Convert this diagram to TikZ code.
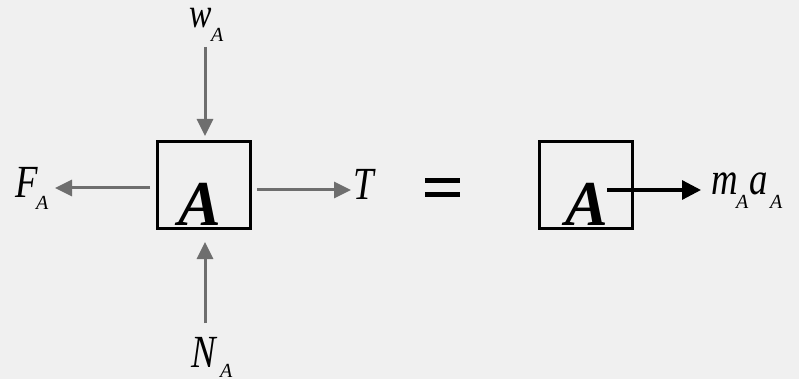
\documentclass[tikz,border=0pt]{standalone}
\usepackage{fontspec}
\setmainfont{Liberation Serif}
\usetikzlibrary{arrows.meta}
\definecolor{bg}{RGB}{240,240,240}
\definecolor{force}{RGB}{110,110,110}
\tikzset{
  box/.style={draw=black,line width=3pt,fill=none},
  farrow/.style={draw=force,line width=3pt,-{Triangle[length=17pt,width=16pt]}},
  karrow/.style={draw=black,line width=3.2pt,-{Triangle[length=19pt,width=19pt]}},
  lbl/.style={inner sep=0pt,anchor=base west,xscale=0.8,transform shape,font=\fontsize{46}{46}\selectfont\itshape},
  sub/.style={inner sep=0pt,anchor=base west,font=\fontsize{20}{20}\selectfont\itshape},
  biga/.style={inner sep=0pt,anchor=base,font=\fontsize{64}{64}\selectfont\bfseries\itshape},
}
\begin{document}
\begin{tikzpicture}[x=1pt,y=-1pt]
\fill[bg] (0,0) rectangle (799,379);
\useasboundingbox (0,0) rectangle (799,379);
% left box
\node[box,minimum width=93pt,minimum height=86pt,inner sep=0pt] (boxL) at (203.5,185) {};
\node[biga] (AL) at (200,225.5) {A};
% right box
\node[box,minimum width=93pt,minimum height=86pt,inner sep=0pt] (boxR) at (585.5,185) {};
\node[biga] (AR) at (587,225.5) {A};
% arrow ends
\coordinate (wt) at (205,47);
\coordinate (wh) at (205,136);
\coordinate (nt) at (205,323);
\coordinate (nh) at (205,242);
\coordinate (ft) at (55,188);
\coordinate (fs) at (150,188);
\coordinate (ts) at (257,190);
\coordinate (tt) at (351,190);
\coordinate (ms) at (607,190);
\coordinate (mt) at (701,190);
\draw[farrow] (wt) -- (wh);
\draw[farrow] (nt) -- (nh);
\draw[farrow] (fs) -- (ft);
\draw[farrow] (ts) -- (tt);
\draw[karrow] (ms) -- (mt);
% labels
\node[lbl,font=\fontsize{42}{42}\selectfont\itshape] (w) at (189,28) {w};
\node[sub] (wA) at (211,42) {A};
\node[lbl] (F) at (15,197) {F};
\node[sub] (FA) at (36,210) {A};
\node[lbl] (T) at (353,200) {T};
\node[lbl] (N) at (191,367) {N};
\node[sub] (NA) at (220,377) {A};
\node[lbl] (m) at (711,195) {m};
\node[sub] (mA) at (736,208) {A};
\node[lbl] (a) at (749,195) {a};
\node[sub] (aA) at (770,208) {A};
% equals
\fill[black] (425,178) rectangle (460,183);
\fill[black] (425,192) rectangle (460,197);
\end{tikzpicture}
\end{document}
